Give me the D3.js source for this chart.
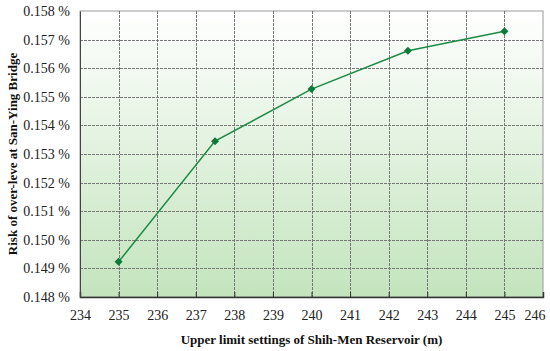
<!DOCTYPE html>
<html>
<head>
<meta charset="utf-8">
<script src="https://cdn.jsdelivr.net/npm/d3@7"></script>
<style>
body { margin: 0; background: #fff; }
text { font-family: "Liberation Serif", "Times New Roman", serif; }
</style>
</head>
<body>
<div id="chart"></div>
<script>
// data
const levels = [235, 237.5, 240, 242.5, 245];
const risk = [0.14923, 0.15345, 0.15527, 0.15661, 0.15729];
const xTicks = d3.range(234, 247, 1);
const yTicks = d3.range(0.148, 0.1585, 0.001);

const W = 550, H = 351;
const m = {left: 80, top: 11, right: 7, bottom: 54};

const svg = d3.select("#chart").append("svg")
	.attr("width", W)
	.attr("height", H);

const x = d3.scaleLinear().domain([234, 246]).range([m.left, W - m.right]);
const y = d3.scaleLinear().domain([0.148, 0.158]).range([H - m.bottom, m.top]);

// background gradient
const grad = svg.append("defs").append("linearGradient")
	.attr("id", "bg").attr("x1", 0).attr("y1", 0).attr("x2", 0).attr("y2", 1);
grad.append("stop").attr("offset", "0%").attr("stop-color", "#ffffff");
grad.append("stop").attr("offset", "100%").attr("stop-color", "#c3e4bd");

svg.append("rect")
	.attr("x", x(234)).attr("y", y(0.158))
	.attr("width", x(246) - x(234)).attr("height", y(0.148) - y(0.158))
	.attr("fill", "url(#bg)")
	.attr("stroke", "#9a9a9a");

// grid
const grid = svg.append("g")
	.attr("stroke", "#777")
	.attr("stroke-width", 1)
	.attr("stroke-dasharray", "3,1");
grid.selectAll("line.v")
	.data(xTicks.slice(1, -1))
	.join("line")
	.attr("x1", d => Math.round(x(d)) + 0.5).attr("x2", d => Math.round(x(d)) + 0.5)
	.attr("y1", y(0.158)).attr("y2", y(0.148));
grid.selectAll("line.h")
	.data(yTicks.slice(1, -1))
	.join("line")
	.attr("class", "h")
	.attr("y1", d => Math.round(y(d)) + 0.5).attr("y2", d => Math.round(y(d)) + 0.5)
	.attr("x1", x(234)).attr("x2", x(246));

// axes
const xAxis = svg.append("g")
	.attr("transform", `translate(0,${y(0.148)})`)
	.call(d3.axisBottom(x).tickValues(xTicks).tickSize(-5).tickPadding(13).tickFormat(d3.format("d")));
xAxis.select(".domain").attr("stroke", "#333").attr("stroke-width", 1.5);
xAxis.selectAll(".tick line").attr("stroke", "#333");
xAxis.selectAll("text").attr("font-size", 14).attr("fill", "#222");
// last label is pulled in so it fits, like the original
xAxis.selectAll(".tick").filter(d => d === 246).select("text").attr("text-anchor", "end").attr("x", 2);

const yAxis = svg.append("g")
	.attr("transform", `translate(${x(234)},0)`)
	.call(d3.axisLeft(y).tickValues(yTicks).tickSize(0).tickPadding(10).tickFormat(d => d3.format(".3f")(d) + " %"));
yAxis.select(".domain").attr("stroke", "#444");
yAxis.selectAll("text").attr("font-size", 14).attr("fill", "#222");

// series
const pts = levels.map((l, i) => [l, risk[i]]);
svg.append("path")
	.datum(pts)
	.attr("fill", "none")
	.attr("stroke", "#1b8a45")
	.attr("stroke-width", 1.5)
	.attr("d", d3.line().x(d => x(d[0])).y(d => y(d[1])));

svg.append("g")
	.selectAll("path")
	.data(pts)
	.join("path")
	.attr("transform", d => `translate(${x(d[0])},${y(d[1])}) rotate(45)`)
	.attr("d", d3.symbol(d3.symbolSquare, 32))
	.attr("fill", "#0c7a38");

// titles
svg.append("text")
	.attr("x", (x(234) + x(246)) / 2)
	.attr("y", 344)
	.attr("text-anchor", "middle")
	.attr("font-size", 13)
	.attr("font-weight", "bold")
	.attr("fill", "#111")
	.text("Upper limit settings of Shih-Men Reservoir (m)");

svg.append("text")
	.attr("transform", `translate(17,${(y(0.148) + y(0.158)) / 2}) rotate(-90)`)
	.attr("text-anchor", "middle")
	.attr("font-size", 13)
	.attr("font-weight", "bold")
	.attr("fill", "#111")
	.text("Risk of over-leve at San-Ying Bridge");
</script>
</body>
</html>
